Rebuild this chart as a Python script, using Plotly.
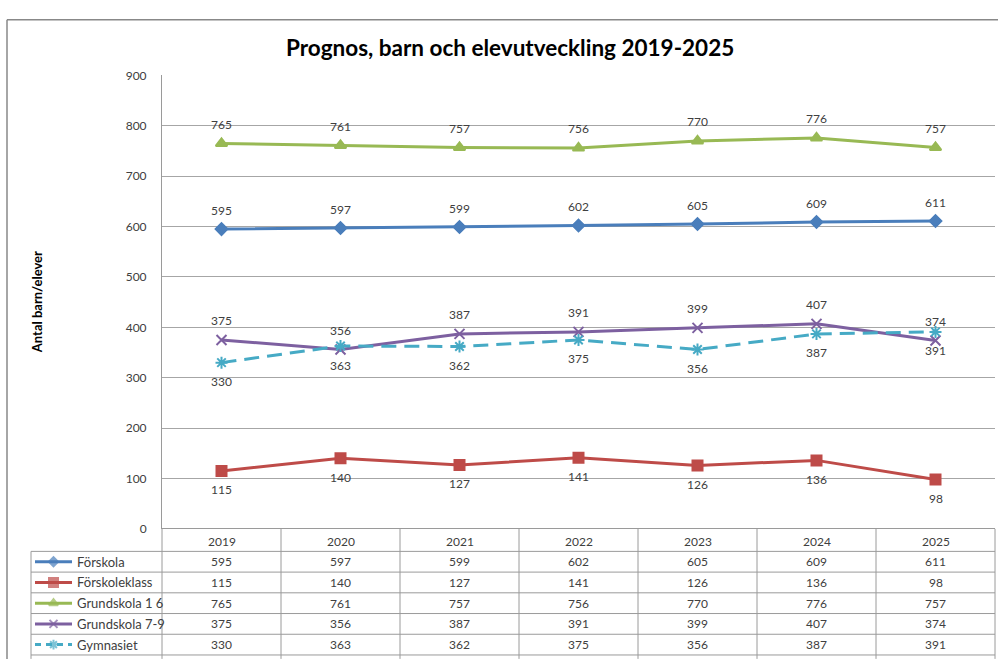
import plotly.graph_objects as go

W, H = 998, 661

years = ["2019", "2020", "2021", "2022", "2023", "2024", "2025"]
series_names = ["Förskola", "Förskoleklass", "Grundskola 1 6", "Grundskola 7-9", "Gymnasiet"]
forskola = [595, 597, 599, 602, 605, 609, 611]
forskoleklass = [115, 140, 127, 141, 126, 136, 98]
grundskola_1_6 = [765, 761, 757, 756, 770, 776, 757]
grundskola_7_9 = [375, 356, 387, 391, 399, 407, 374]
gymnasiet = [330, 363, 362, 375, 356, 387, 391]

title = "Prognos, barn och elevutveckling 2019-2025"
y_title = "Antal barn/elever"

values = [forskola, forskoleklass, grundskola_1_6, grundskola_7_9, gymnasiet]
colors = ["#4A7EBB", "#BE4B48", "#98B954", "#7D60A0", "#46AAC5"]
symbols = ["diamond", "square", "triangle-up", "x-thin-open", "asterisk-open"]
msizes = [9, 10, 10, 10, 10]
leg_sizes = [7, 9, 8, 8, 8]
dashes = ["solid", "solid", "solid", "solid", "15px,8px"]
label_pos = [1, -1, 1, 1, -1]  # above / below

FONT = "Lato"
TXT = "#404040"
GRID = "#a6a6a6"

# layout geometry (pixels)
PL, PR, PT, PB = 162, 995, 69, 533
LEG_L = 31
HEAD_B = 556
ROW_H = 21.2


def px(x):
    return x / W


def py(y):
    return 1 - y / H


fig = go.Figure()

for name, vals, c, s, ms, d in zip(series_names, values, colors, symbols, msizes, dashes):
    fig.add_trace(go.Scatter(
        x=list(range(len(years))), y=vals, name=name, mode="lines+markers",
        line=dict(color=c, width=3, dash=d),
        marker=dict(symbol=s, size=ms, color=c, line=dict(color=c, width=2)),
        showlegend=False, xaxis="x", yaxis="y"))

annotations = []
for vals, pos in zip(values, label_pos):
    for i, v in enumerate(vals):
        annotations.append(dict(
            x=i, y=v, xref="x", yref="y", text=str(v), showarrow=False,
            xanchor="center", yanchor="middle",
            yshift=19 * pos, font=dict(family=FONT, size=12, color=TXT)))

# data table
ncol = len(years)
cw = (PR - PL) / ncol
shapes = []
line_c = "#9a9a9a"
for r in range(len(series_names) + 1):
    yy = HEAD_B + r * ROW_H
    shapes.append(dict(type="line", xref="paper", yref="paper",
                       x0=px(LEG_L), x1=px(PR), y0=py(yy), y1=py(yy),
                       line=dict(color=line_c, width=1)))
for cidx in range(ncol + 1):
    xx = PL + cidx * cw
    shapes.append(dict(type="line", xref="paper", yref="paper",
                       x0=px(xx), x1=px(xx), y0=py(PB), y1=py(H + 5),
                       line=dict(color=line_c, width=1)))
shapes.append(dict(type="line", xref="paper", yref="paper",
                   x0=px(LEG_L), x1=px(LEG_L), y0=py(HEAD_B), y1=py(H + 5),
                   line=dict(color=line_c, width=1)))
# outer frame
shapes.append(dict(type="line", xref="paper", yref="paper",
                   x0=px(7), x1=px(W + 5), y0=py(12), y1=py(12),
                   line=dict(color="#888888", width=1.5)))
shapes.append(dict(type="line", xref="paper", yref="paper",
                   x0=px(7), x1=px(7), y0=py(12), y1=py(H + 5),
                   line=dict(color="#888888", width=1.5)))

for cidx, yr in enumerate(years):
    xc = PL + (cidx + 0.5) * cw
    annotations.append(dict(x=px(xc), y=py((PB + HEAD_B) / 2 + 1), xref="paper", yref="paper",
                            text=yr, showarrow=False, xanchor="center", yanchor="middle",
                            font=dict(family=FONT, size=12, color=TXT)))
    for r, vals in enumerate(values):
        yc = HEAD_B + (r + 0.5) * ROW_H
        annotations.append(dict(x=px(xc), y=py(yc), xref="paper", yref="paper",
                                text=str(vals[cidx]), showarrow=False,
                                xanchor="center", yanchor="middle",
                                font=dict(family=FONT, size=12, color=TXT)))

for r, (name, c, s, ms, d) in enumerate(zip(series_names, colors, symbols, leg_sizes, dashes)):
    yc = HEAD_B + (r + 0.5) * ROW_H
    annotations.append(dict(x=px(75), y=py(yc), xref="paper", yref="paper",
                            text=name, showarrow=False, xanchor="left", yanchor="middle",
                            font=dict(family=FONT, size=13, color=TXT)))
    fig.add_trace(go.Scatter(
        x=[35, 53.5, 72], y=[yc, yc, yc], mode="lines+markers",
        line=dict(color=c, width=3, dash="solid" if d == "solid" else "6px,5px"),
        marker=dict(symbol=s, size=[0, ms, 0], color=c, line=dict(color=c, width=2)),
        showlegend=False, hoverinfo="skip", xaxis="x2", yaxis="y2"))

annotations.append(dict(x=px(510), y=py(40), xref="paper", yref="paper", text="<b>" + title + "</b>",
                        showarrow=False, xanchor="center", yanchor="middle",
                        font=dict(family=FONT, size=22.5, color="#000000")))
annotations.append(dict(x=px(37), y=py(301), xref="paper", yref="paper", text="<b>" + y_title + "</b>",
                        showarrow=False, textangle=-90, xanchor="center", yanchor="middle",
                        font=dict(family=FONT, size=13, color="#000000")))

fig.update_layout(
    width=W, height=H,
    margin=dict(l=0, r=0, t=0, b=0),
    paper_bgcolor="white", plot_bgcolor="rgba(0,0,0,0)",
    xaxis=dict(domain=[px(PL), px(PR)], range=[-0.5, len(years) - 0.5],
               showticklabels=False, showgrid=False, zeroline=False,
               showline=False, anchor="y", fixedrange=True),
    yaxis=dict(domain=[py(PB), py(PT)], range=[0, 900], dtick=100,
               showgrid=True, gridcolor=GRID, gridwidth=1,
               zeroline=True, zerolinecolor=line_c, zerolinewidth=1,
               showline=True, linecolor=line_c, linewidth=1,
               ticks="", ticklabelstandoff=12,
               tickfont=dict(family=FONT, size=12, color=TXT), anchor="x", fixedrange=True),
    xaxis2=dict(domain=[0, 1], range=[0, W], visible=False, anchor="y2", fixedrange=True),
    yaxis2=dict(domain=[0, 1], range=[H, 0], visible=False, anchor="x2", fixedrange=True),
    shapes=shapes,
    annotations=annotations,
)

post = (
    "document.documentElement.style.margin='0';"
    "document.body.style.margin='0';document.body.style.padding='0';"
    "document.body.style.overflow='hidden';"
    "var d=document.querySelector('.plotly-graph-div');"
    "d.style.position='fixed';d.style.top='0px';d.style.left='0px';"
)
fig.write_html("out.html", config={"displayModeBar": False}, post_script=post)
